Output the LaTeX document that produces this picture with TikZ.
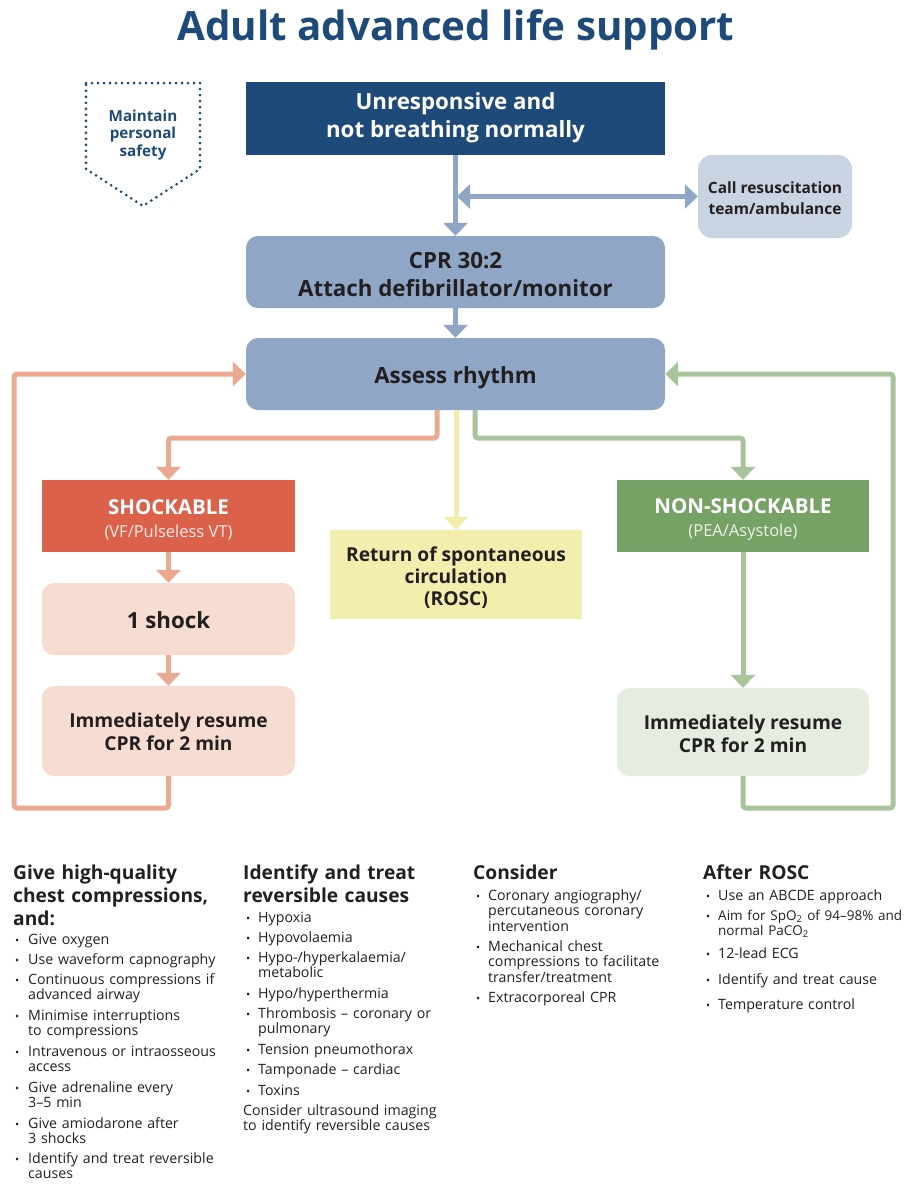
\documentclass[tikz,border=0pt]{standalone}
\usepackage{fontspec}
\setmainfont{Open Sans}
\usetikzlibrary{arrows.meta}
\definecolor{dkblue}{HTML}{1E4A7A}
\definecolor{mdblue}{HTML}{8FA6C6}
\definecolor{ltblue}{HTML}{CAD3E2}
\definecolor{salmon}{HTML}{EAA990}
\definecolor{shred}{HTML}{DC614B}
\definecolor{ltsalmon}{HTML}{F7DCD2}
\definecolor{yline}{HTML}{F2EDAA}
\definecolor{yfill}{HTML}{F3EDAE}
\definecolor{gline}{HTML}{A8C49B}
\definecolor{gfill}{HTML}{77A266}
\definecolor{ltgreen}{HTML}{E4EDE0}
\definecolor{ink}{HTML}{231F20}
\newcommand\bitem[5]{\node[bul] (#1b) at (#2,#4) {\textbullet};\node[itm] (#1) at (#3,#4) {#5};}
\begin{document}
\begin{tikzpicture}[x=1pt,y=-1pt,
  box/.style={inner sep=0pt},
  rbox/.style={box,rounded corners=12pt},
  txt/.style={inner sep=0pt,align=center,text=ink},
  conn/.style={line width=5pt,rounded corners=3pt},
  tip/.style={-{Triangle[width=24pt,length=13pt]}},
  big/.style={font=\fontsize{22.3}{28}\selectfont\bfseries},
  mid/.style={font=\fontsize{19.2}{23}\selectfont\bfseries},
  head/.style={anchor=base west,inner sep=0pt,text=ink,text width=230pt,align=left,font=\fontsize{19.2}{23}\selectfont\bfseries},
  itm/.style={anchor=base west,inner sep=0pt,text=ink,text width=200pt,align=left,font=\fontsize{14.2}{15.8}\selectfont},
  bul/.style={anchor=base west,inner sep=0pt,text=ink,font=\fontsize{11}{13}\selectfont}]
\useasboundingbox (0,0) rectangle (907,1189);
\node[inner sep=0pt,anchor=base,text=dkblue,font=\fontsize{40.3}{46}\selectfont\bfseries] (title) at (456,40) {Adult advanced life support};
% safety
\draw[dkblue,line width=3pt,line cap=round,dash pattern=on 0pt off 6pt] (86,83) -- (200,83) -- (200,169) -- (143,206) -- (86,169) -- cycle;
\node[txt,text=dkblue,font=\fontsize{15.2}{17.5}\selectfont\bfseries] (safety) at (143,135) {Maintain\\personal\\safety};
% boxes
\node[box,fill=dkblue,minimum width=419pt,minimum height=73pt] (unresp) at (455.5,118.5) {};
\node[txt,big,text=white] (unresp-t) at ([yshift=1pt]unresp.center) {Unresponsive and\\not breathing normally};
\node[rbox,rounded corners=14pt,fill=ltblue,minimum width=154pt,minimum height=83pt] (call) at (775,196.5) {};
\node[txt,font=\fontsize{15.5}{21}\selectfont\bfseries] (call-t) at ([yshift=-2pt]call.center) {Call resuscitation\\team/ambulance};
\node[rbox,fill=mdblue,minimum width=419pt,minimum height=72pt] (cpr) at (455.5,272) {};
\node[txt,big] (cpr-t) at ([yshift=-3pt]cpr.center) {CPR 30:2\\Attach defibrillator/monitor};
\node[rbox,fill=mdblue,minimum width=419pt,minimum height=72pt] (assess) at (455.5,374) {};
\node[txt,big] (assess-t) at ([yshift=-4pt]assess.center) {Assess rhythm};
\node[box,fill=shred,minimum width=253pt,minimum height=72pt] (shock) at (168.5,516) {};
\node[txt,text=white,font=\fontsize{20.5}{23}\selectfont\bfseries] (shock-t) at ([yshift=-4pt]shock.center) {SHOCKABLE\\{\fontsize{16.5}{23}\selectfont\mdseries\color{white!88!shred}(VF/Pulseless VT)}};
\node[rbox,fill=ltsalmon,minimum width=253pt,minimum height=72pt] (oneshock) at (168.5,619) {};
\node[txt,big] (oneshock-t) at ([yshift=-1pt]oneshock.center) {1 shock};
\node[rbox,fill=ltsalmon,minimum width=253pt,minimum height=90pt] (resumeL) at (168.5,731) {};
\node[txt,mid] (resumeL-t) at ([yshift=-1pt]resumeL.center) {Immediately resume\\CPR for 2 min};
\node[box,fill=yfill,minimum width=252pt,minimum height=89pt] (rosc) at (456,574.5) {};
\node[txt,font=\fontsize{19.2}{22}\selectfont\bfseries] (rosc-t) at ([yshift=-3pt]rosc.center) {Return of spontaneous\\circulation\\(ROSC)};
\node[box,fill=gfill,minimum width=252pt,minimum height=72pt] (nonshock) at (743,516) {};
\node[txt,text=white,font=\fontsize{20.5}{23}\selectfont\bfseries] (nonshock-t) at ([yshift=-4pt]nonshock.center) {NON-SHOCKABLE\\{\fontsize{16.5}{23}\selectfont\mdseries\color{white!88!gfill}(PEA/Asystole)}};
\node[rbox,fill=ltgreen,minimum width=252pt,minimum height=88pt] (resumeR) at (743,732) {};
\node[txt,mid] (resumeR-t) at ([yshift=-2pt]resumeR.center) {Immediately resume\\CPR for 2 min};
% connectors
\coordinate (j) at (457,196.5);
\draw[conn,mdblue,tip] (unresp.south) -- (cpr.north);
\draw[conn,mdblue,{Triangle[width=24pt,length=13pt]}-{Triangle[width=24pt,length=13pt]}] (j) -- (call.west);
\draw[conn,mdblue,tip] (cpr.south) -- (assess.north);
\coordinate (aL) at (437,410);
\coordinate (aM) at (456,410);
\coordinate (aR) at (475,410);
\draw[conn,salmon,tip] (aL) -- (437,438) -- (168.5,438) -- (shock.north);
\draw[conn,yline,tip] (aM) -- (rosc.north);
\draw[conn,gline,tip] (aR) -- (475,438) -- (743,438) -- (nonshock.north);
\draw[conn,salmon,tip] (shock.south) -- (oneshock.north);
\draw[conn,salmon,tip] (oneshock.south) -- (resumeL.north);
\draw[conn,gline,tip] (nonshock.south) -- (resumeR.north);
\draw[conn,salmon,tip] (resumeL.south) -- (168.5,808) -- (14,808) -- (14,374) -- (assess.west);
\draw[conn,gline,tip] (resumeR.south) -- (743,808) -- (893,808) -- (893,374) -- (assess.east);
% bottom columns
\node[head] (h1) at (13,879) {Give high-quality\\chest compressions,\\and:};
\node[head] (h2) at (243,879) {Identify and treat\\reversible causes};
\node[head] (h3) at (473,879) {Consider};
\node[head] (h4) at (703,879) {After ROSC};
\bitem{c1a}{15}{28}{944}{Give oxygen}
\bitem{c1b}{15}{28}{964}{Use waveform capnography}
\bitem{c1c}{15}{28}{984}{Continuous compressions if\\advanced airway}
\bitem{c1d}{15}{28}{1020}{Minimise interruptions\\to compressions}
\bitem{c1e}{15}{28}{1056}{Intravenous or intraosseous\\access}
\bitem{c1f}{15}{28}{1092}{Give adrenaline every\\3--5 min}
\bitem{c1g}{15}{28}{1128}{Give amiodarone after\\3 shocks}
\bitem{c1h}{15}{28}{1163}{Identify and treat reversible\\causes}
\bitem{c2a}{246}{258}{922}{Hypoxia}
\bitem{c2b}{246}{258}{942}{Hypovolaemia}
\bitem{c2c}{246}{258}{962}{Hypo-/hyperkalaemia/\\metabolic}
\bitem{c2d}{246}{258}{998}{Hypo/hyperthermia}
\bitem{c2e}{246}{258}{1018}{Thrombosis -- coronary or\\pulmonary}
\bitem{c2f}{246}{258}{1054}{Tension pneumothorax}
\bitem{c2g}{246}{258}{1074}{Tamponade -- cardiac}
\bitem{c2h}{246}{258}{1095}{Toxins}
\node[itm] (c2i) at (243,1115) {Consider ultrasound imaging\\to identify reversible causes};
\bitem{c3a}{476}{488}{900}{Coronary angiography/\\percutaneous coronary\\intervention}
\bitem{c3b}{476}{488}{951}{Mechanical chest\\compressions to facilitate\\transfer/treatment}
\bitem{c3c}{476}{488}{1002}{Extracorporeal CPR}
\bitem{c4a}{706}{718}{900}{Use an ABCDE approach}
\bitem{c4b}{706}{718}{920}{\fontsize{13.5}{15.8}\selectfont Aim for SpO\textsubscript{2} of 94--98\% and\\normal PaCO\textsubscript{2}}
\bitem{c4c}{706}{718}{958}{12-lead ECG}
\bitem{c4d}{706}{718}{984}{Identify and treat cause}
\bitem{c4e}{706}{718}{1009}{Temperature control}
\end{tikzpicture}
\end{document}
